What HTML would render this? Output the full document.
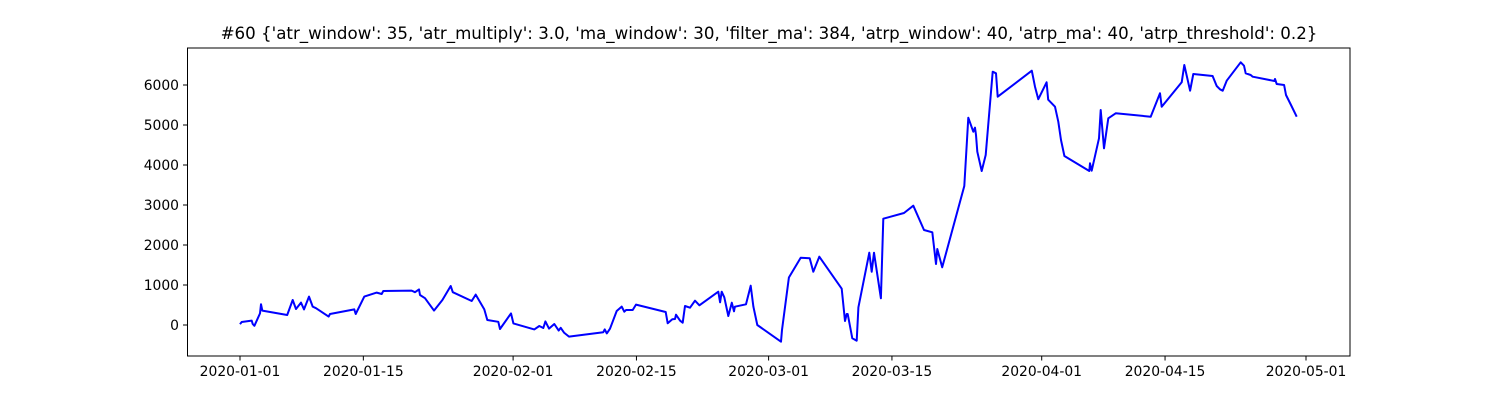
<!DOCTYPE html>
<html><head><meta charset="utf-8"><style>
body{margin:0;background:#fff;}
svg text{font-family:"DejaVu Sans","Liberation Sans",sans-serif;fill:#000;}
</style></head><body>
<svg id="chart" width="1500" height="400" xmlns="http://www.w3.org/2000/svg">
<rect width="1500" height="400" fill="#fff"/>
<text x="769" y="39" font-size="16.67" text-anchor="middle">#60 {'atr_window': 35, 'atr_multiply': 3.0, 'ma_window': 30, 'filter_ma': 384, 'atrp_window': 40, 'atrp_ma': 40, 'atrp_threshold': 0.2}</text>
<g id="ticks"></g>
<path id="line" fill="none" stroke="#0000ff" stroke-width="2" stroke-linejoin="round"/>
<rect x="187.5" y="48" width="1162.5" height="308" fill="none" stroke="#000" stroke-width="1"/>
</svg>
<script>
const days=[0,0.19,1.33,1.44,1.63,2.27,2.38,2.53,5.36,5.98,6.36,6.92,7.27,7.83,8.25,8.63,10.06,10.21,12.97,13.13,14.11,15.52,16.08,16.26,19.48,19.86,20.32,20.43,21.0,22.02,22.97,23.92,24.15,26.30,26.75,27.73,28.07,29.32,29.51,30.76,31.03,33.41,33.97,34.43,34.66,35.07,35.68,36.17,36.40,36.78,37.34,41.24,41.40,41.63,42.00,42.76,43.33,43.62,43.82,44.57,44.95,48.32,48.55,49.07,49.38,49.49,49.95,50.25,50.51,51.08,51.65,52.14,54.29,54.49,54.68,54.97,55.43,55.82,56.07,56.18,57.43,57.97,58.27,58.72,61.41,61.52,62.30,63.64,64.67,65.07,65.75,68.30,68.67,68.87,68.98,69.50,70.0,70.19,71.43,71.70,71.96,72.75,73.02,75.37,76.42,77.64,78.58,79.0,79.15,79.71,82.21,82.67,83.23,83.43,83.54,83.69,84.19,84.64,85.44,85.81,86.01,89.87,90.24,90.61,91.56,91.74,92.51,92.88,93.19,93.57,96.40,96.48,96.67,97.50,97.70,98.07,98.56,99.40,103.37,104.43,104.62,106.89,107.19,107.84,108.21,110.40,110.86,111.24,111.54,112.0,113.59,113.96,114.15,114.72,114.95,117.41,117.48,117.67,118.51,118.73,119.30,119.94];
const values=[20,75,110,25,-20,290,520,360,250,625,400,560,390,710,460,420,210,275,390,275,710,810,775,850,860,820,890,750,670,360,625,975,820,600,760,390,125,80,-100,290,40,-110,-25,-75,90,-90,25,-140,-70,-190,-290,-180,-110,-210,-93,350,460,333,375,375,510,325,43,143,150,258,108,58,475,433,608,493,833,568,833,693,225,558,343,458,518,983,458,0,-418,-125,1188,1683,1668,1333,1708,908,100,275,275,-333,-393,443,1808,1333,1808,668,2658,2800,2983,2375,2318,1525,1900,1443,3475,5183,4833,4933,4750,4333,3850,4250,6333,6293,5708,6358,5958,5645,6068,5633,5458,5083,4625,4225,3850,4043,3858,4668,5375,4418,5168,5293,5208,5793,5458,6068,6500,5858,6275,6225,5975,5893,5858,6108,6568,6483,6293,6250,6208,6100,6150,6025,6000,5750,5500,5208];
const yTicks=[0,1000,2000,3000,4000,5000,6000];
const xTickDays=[0,14,31,45,60,74,91,105,121];
const xTickLabels=["2020-01-01","2020-01-15","2020-02-01","2020-02-15","2020-03-01","2020-03-15","2020-04-01","2020-04-15","2020-05-01"];
const X=d=>240+d*8.81;
const Y=v=>325-v*0.04;
const NS="http://www.w3.org/2000/svg";
const g=document.getElementById('ticks');
function mk(tag,attrs){const e=document.createElementNS(NS,tag);for(const k in attrs)e.setAttribute(k,attrs[k]);g.appendChild(e);return e;}
yTicks.forEach(v=>{
  const t=mk('line',{x1:183,x2:187.5,y1:Y(v),y2:Y(v),stroke:'#000'});
  
  
  const l=mk('text',{x:179,y:Y(v)+5,'font-size':13.89,'text-anchor':'end'});
  l.textContent=v;
  
  
});
xTickDays.forEach((d,i)=>{
  const t=mk('line',{x1:X(d),x2:X(d),y1:356,y2:360.5,stroke:'#000'});
  
  
  const l=mk('text',{x:X(d),y:376,'font-size':13.89,'text-anchor':'middle'});
  l.textContent=xTickLabels[i];
  
  
});
document.getElementById('line').setAttribute('d',days.map((d,i)=>(i?'L':'M')+X(d).toFixed(1)+','+Y(values[i]).toFixed(1)).join(''));
</script>
</body></html>
